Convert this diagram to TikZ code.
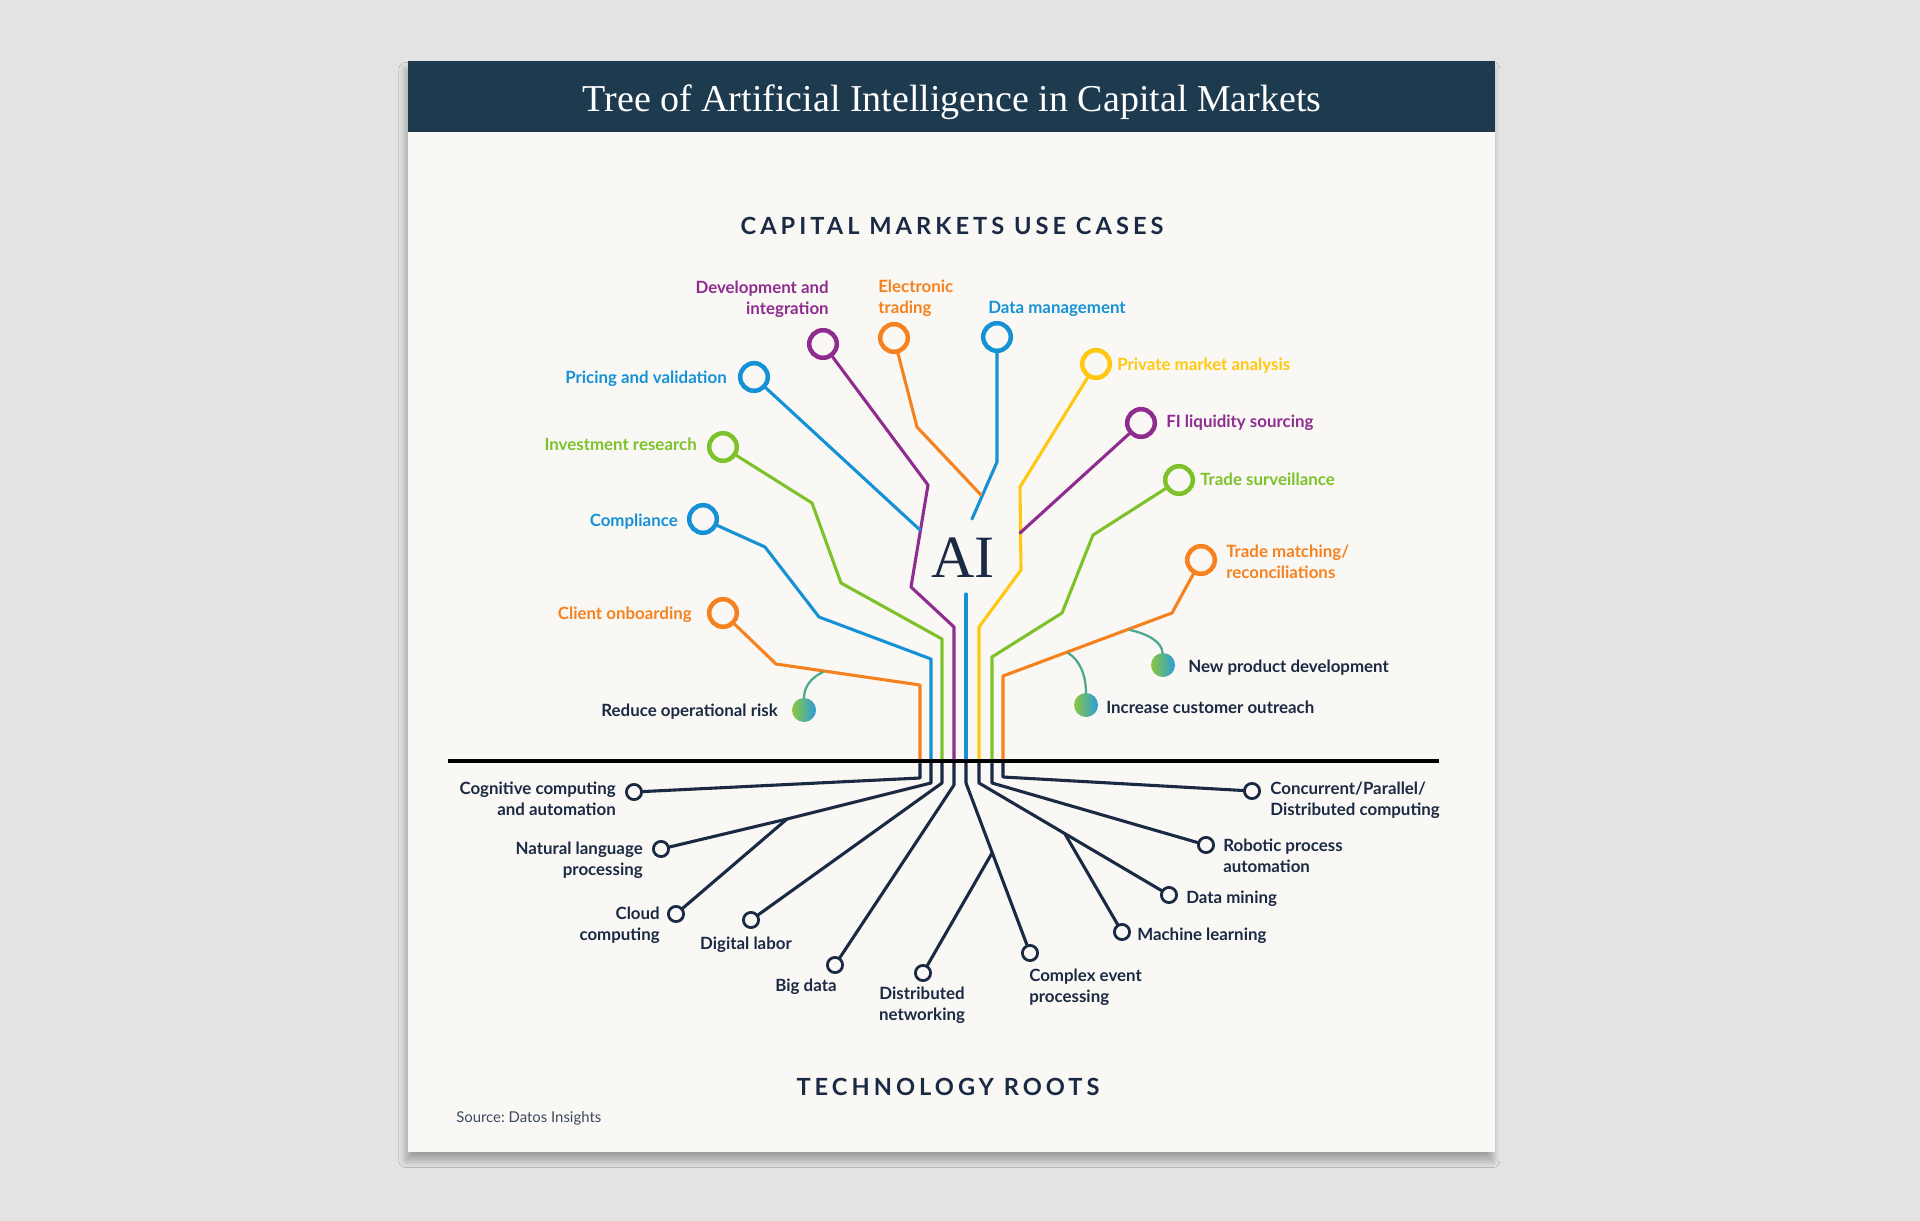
\documentclass[tikz,border=0pt]{standalone}
\usepackage{fontspec}
\setmainfont{Lato}
\newfontfamily\serifttl{Liberation Serif}
\usetikzlibrary{shadows.blur}
\definecolor{bgray}{HTML}{E3E3E3}
\definecolor{card}{HTML}{FAF8F4}
\definecolor{head}{HTML}{1D3A4E}
\definecolor{navy}{HTML}{1B2A44}
\definecolor{cpurple}{HTML}{8E2C8F}
\definecolor{corange}{HTML}{F5821F}
\definecolor{cblue}{HTML}{1592D6}
\definecolor{cgreen}{HTML}{7DC22B}
\definecolor{cyellow}{HTML}{FFC80F}
\definecolor{cteal}{HTML}{4BA88F}
\definecolor{dgreen}{HTML}{8CC63F}
\definecolor{dblue}{HTML}{2B9ED9}
\frenchspacing
\begin{document}
\begin{tikzpicture}[x=0.025cm,y=-0.025cm,line cap=round,line join=round]
\tikzstyle{uc}=[circle,draw,line width=3.2pt,minimum size=0.69cm,inner sep=0pt,fill=card]
\tikzstyle{rt}=[circle,draw=navy,line width=2pt,minimum size=0.38cm,inner sep=0pt,fill=card]
\tikzstyle{dot}=[circle,minimum size=0.6cm,inner sep=0pt,left color=dgreen,right color=dblue]
\tikzstyle{br}=[line width=2.2pt]
\tikzstyle{rl}=[navy,line width=2.2pt]
\tikzstyle{lf}=[cteal,line width=1.6pt]
\tikzstyle{lb}=[font={\fontsize{12}{15}\selectfont\bfseries},inner sep=0pt]
\tikzstyle{rlb}=[lb,text=navy]
\tikzstyle{hd}=[font={\fontsize{16.8}{20}\selectfont\bfseries\addfontfeatures{LetterSpace=17}},text=navy,inner sep=0pt]
% card
\useasboundingbox (0,0) rectangle (1920,1221);
\fill[bgray] (0,0) rectangle (1920,1221);
\fill[card,blur shadow={shadow xshift=-1.5pt,shadow yshift=-6pt,shadow blur steps=10,shadow blur radius=5pt,shadow opacity=30}] (408,61) rectangle (1495,1152);
\fill[head] (408,61) rectangle (1495,132);
\node[font={\serifttl\fontsize{27}{32}\selectfont},text=white,anchor=base,inner sep=0pt] (ttl) at (952,112) {Tree of Artificial Intelligence in Capital Markets};
\node[hd,anchor=base] (uch) at (952,235) {CAPITAL MARKETS USE CASES};
\node[hd,anchor=base] (trh) at (948,1095) {TECHNOLOGY ROOTS};
\node[font={\fontsize{10.6}{13}\selectfont},text=navy!85,anchor=base west,inner sep=0pt] (src) at (456,1122) {Source: Datos Insights};
\foreach \n/\x in {1/920,2/931,3/942,4/954,5/966,6/979,7/992,8/1003} \coordinate (b\n) at (\x,761);
% use cases
\node[font={\serifttl\fontsize{42.7}{48}\selectfont},text=navy,anchor=base,inner sep=0pt] (ai) at (963,577) {AI};
\node[uc,draw=corange] (onb) at (723,613) {};
\node[uc,draw=cblue] (cmp) at (703,519) {};
\node[uc,draw=cgreen] (inv) at (723,447) {};
\node[uc,draw=cblue] (prc) at (754,377) {};
\node[uc,draw=cpurple] (dev) at (823,344) {};
\node[uc,draw=corange] (etr) at (894,338) {};
\node[uc,draw=cblue] (dmg) at (997,337) {};
\node[uc,draw=cyellow] (pma) at (1096,364) {};
\node[uc,draw=cpurple] (fil) at (1141,423) {};
\node[uc,draw=cgreen] (tsv) at (1179,480) {};
\node[uc,draw=corange] (tmr) at (1201,560) {};
\coordinate (jp) at (920,530);
\coordinate (jd) at (972,519);
\coordinate (je) at (981,495);
\coordinate (ja) at (966,594);
\coordinate (jf) at (1020,533);
\draw[br,corange] (b1) -- (920,685) -- (776,664) -- (onb);
\draw[br,cblue] (b2) -- (931,659) -- (819,617) -- (765,547) -- (cmp);
\draw[br,cgreen] (b3) -- (942,639) -- (841,583) -- (812,503) -- (inv);
\draw[br,cpurple] (b4) -- (954,627) -- (911,587) -- (928,485) -- (dev);
\draw[br,cblue] (jp) -- (prc);
\draw[br,cblue] (jd) -- (997,462) -- (dmg);
\draw[br,corange] (je) -- (917,427) -- (etr);
\draw[br,cblue] (b5) -- (ja);
\draw[br,cyellow] (b6) -- (979,627) -- (1021,570) -- (1020,487) -- (pma);
\draw[br,cpurple] (jf) -- (fil);
\draw[br,cgreen] (b7) -- (992,657) -- (1062,613) -- (1093,535) -- (tsv);
\draw[br,corange] (b8) -- (1003,676) -- (1172,613) -- (tmr);
% leaves
\node[dot] (rdr) at (804,710) {};
\node[dot] (npd) at (1163,665) {};
\node[dot] (ico) at (1086,705) {};
\coordinate (lr) at (823,672);
\coordinate (ln) at (1130,630);
\coordinate (li) at (1068,653);
\draw[lf] (lr) .. controls (810,678) and (804,688) .. (rdr);
\draw[lf] (ln) .. controls (1148,634) and (1162,642) .. (npd);
\draw[lf] (li) .. controls (1080,660) and (1086,676) .. (ico);
\node[lb,text=corange,anchor=base east] (onbl) at (692,619) {Client onboarding};
\node[lb,text=cblue,anchor=base east] (cmpl) at (678,526) {Compliance};
\node[lb,text=cgreen,anchor=base east] (invl) at (697,450) {Investment research};
\node[lb,text=cblue,anchor=base east] (prcl) at (727,383) {Pricing and validation};
\node[lb,text=cpurple,anchor=north east,align=right] (devl) at (829,281) {Development and\\integration};
\node[lb,text=corange,anchor=north west,align=left] (etrl) at (878,280) {Electronic\\trading};
\node[lb,text=cblue,anchor=base west] (dmgl) at (988,313) {Data management};
\node[lb,text=cyellow,anchor=base west] (pmal) at (1117,370) {Private market analysis};
\node[lb,text=cpurple,anchor=base west] (fils) at (1166,427) {FI liquidity sourcing};
\node[lb,text=cgreen,anchor=base west] (tsvl) at (1200,485) {Trade surveillance};
\node[lb,text=corange,anchor=north west,align=left] (tmrl) at (1226,545) {Trade matching/\\reconciliations};
\node[rlb,anchor=base east] (rdrl) at (778,716) {Reduce operational risk};
\node[rlb,anchor=base west] (npdl) at (1188,672) {New product development};
\node[rlb,anchor=base west] (icol) at (1106,713) {Increase customer outreach};
% roots
\node[rt] (cog) at (634,792) {};
\node[rt] (nlp) at (661,849) {};
\node[rt] (cld) at (676,914) {};
\node[rt] (dgl) at (751,920) {};
\node[rt] (bgd) at (835,965) {};
\node[rt] (dnw) at (923,973) {};
\node[rt] (cep) at (1030,953) {};
\node[rt] (mlr) at (1122,932) {};
\node[rt] (dmn) at (1169,895) {};
\node[rt] (rpa) at (1206,845) {};
\node[rt] (cpd) at (1252,791) {};
\coordinate (jn) at (787,819);
\coordinate (jc) at (992,853);
\coordinate (jm) at (1065,834);
\draw[rl] (b1) -- (920,778) -- (cog);
\draw[rl] (b2) -- (931,783) -- (jn) -- (nlp);
\draw[rl] (jn) -- (cld);
\draw[rl] (b3) -- (942,783) -- (dgl);
\draw[rl] (b4) -- (954,785) -- (bgd);
\draw[rl] (b5) -- (966,783) -- (cep);
\draw[rl] (jc) -- (dnw);
\draw[rl] (b6) -- (979,783) -- (dmn);
\draw[rl] (jm) -- (mlr);
\draw[rl] (b7) -- (992,783) -- (rpa);
\draw[rl] (b8) -- (1003,777) -- (cpd);
\node[rlb,anchor=north east,align=right] (cogl) at (616,782) {Cognitive computing\\and automation};
\node[rlb,anchor=north east,align=right] (nlpl) at (643,842) {Natural language\\processing};
\node[rlb,anchor=north east,align=right] (cldl) at (660,907) {Cloud\\computing};
\node[rlb,anchor=base] (dgll) at (746,949) {Digital labor};
\node[rlb,anchor=base] (bgdl) at (806,991) {Big data};
\node[rlb,anchor=north,align=center] (dnwl) at (922,987) {Distributed\\networking};
\node[rlb,anchor=north west,align=left] (cepl) at (1029,969) {Complex event\\processing};
\node[rlb,anchor=base west] (mlrl) at (1137,940) {Machine learning};
\node[rlb,anchor=base west] (dmnl) at (1186,903) {Data mining};
\node[rlb,anchor=north west,align=left] (rpal) at (1223,839) {Robotic process\\automation};
\node[rlb,anchor=north west,align=left] (cpdl) at (1270,782) {Concurrent/Parallel/\\Distributed computing};
% ground
\coordinate (gl) at (448,761);
\coordinate (gr) at (1439,761);
\draw[black,line width=2.8pt,line cap=butt] (gl) -- (gr);
\end{tikzpicture}
\end{document}
